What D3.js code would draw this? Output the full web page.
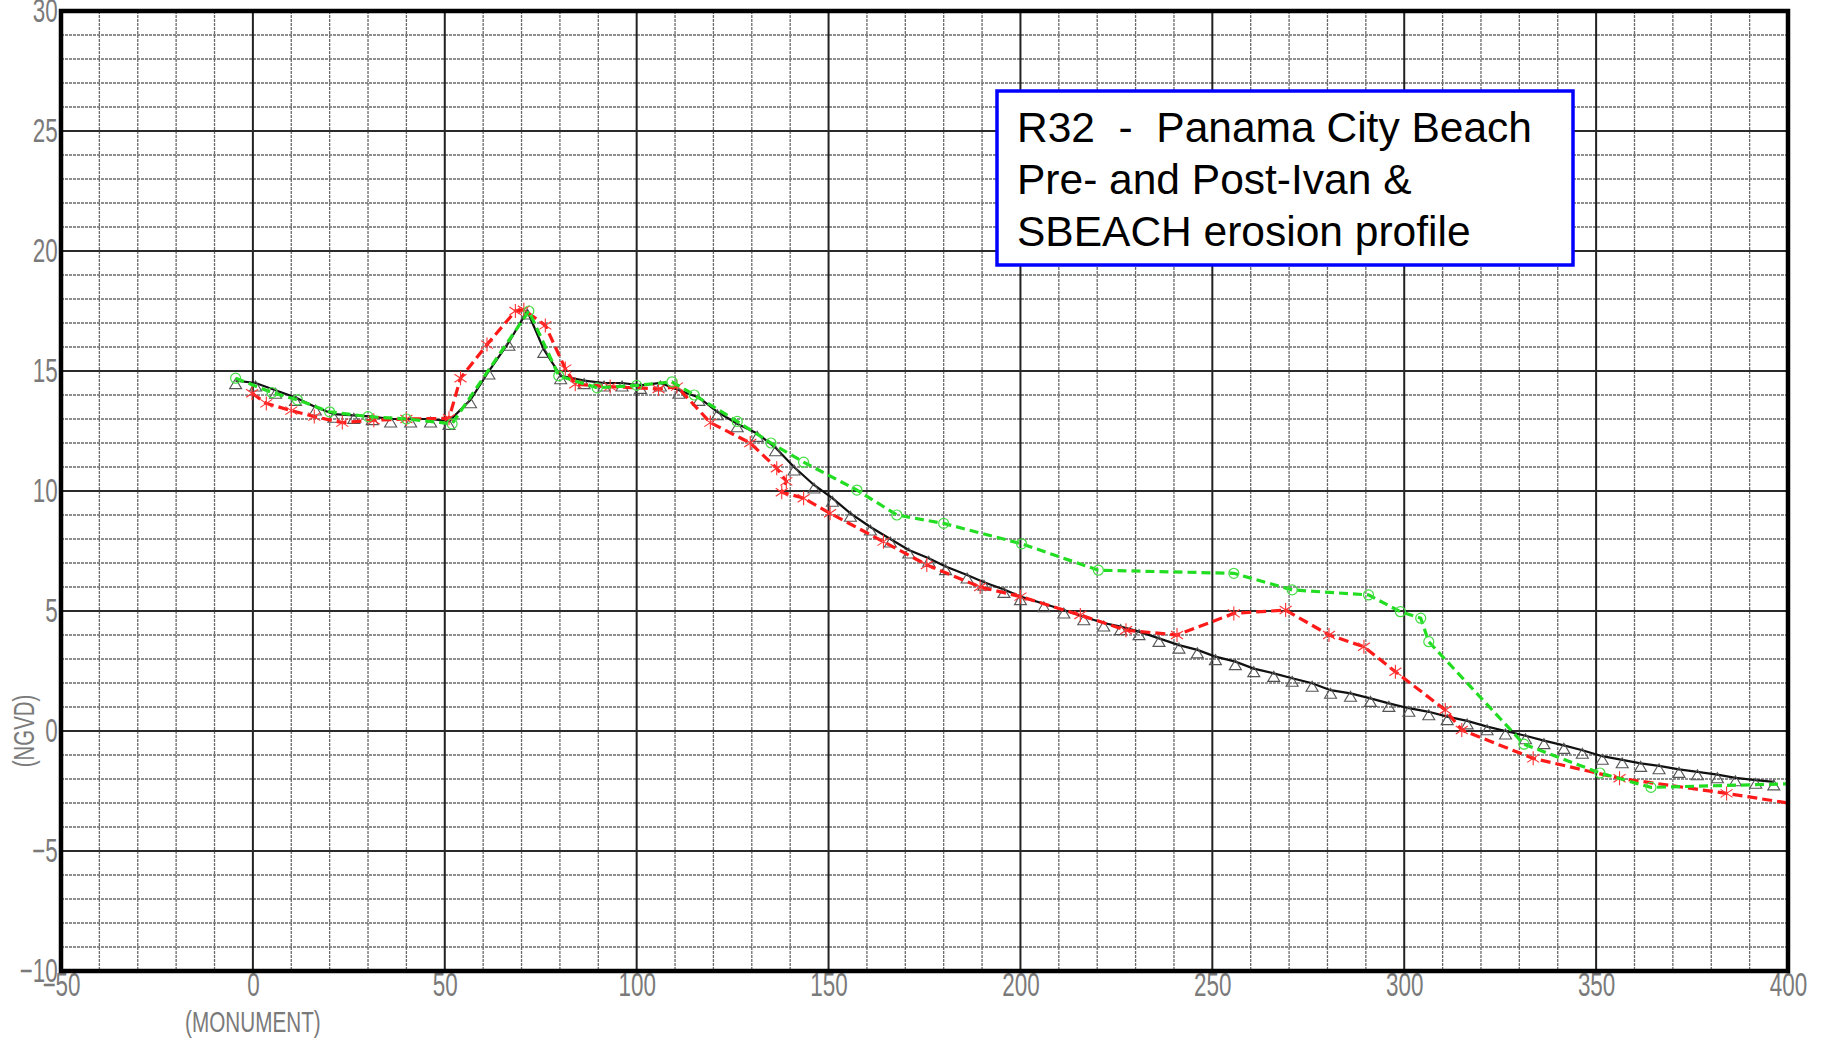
<!DOCTYPE html>
<html>
<head>
<meta charset="utf-8">
<script src="https://cdn.jsdelivr.net/npm/d3@7"></script>
<style>
  html, body { margin: 0; padding: 0; background: #ffffff; }
  svg { display: block; }
</style>
</head>
<body>
<svg id="chart" width="1826" height="1044"></svg>
<script>
// ---------- data ----------
const xTicks = [-50, 0, 50, 100, 150, 200, 250, 300, 350, 400];
const yTicks = [-10, -5, 0, 5, 10, 15, 20, 25, 30];
const xAxisLabel = "(MONUMENT)";
const yAxisLabel = "(NGVD)";
const titleLines = ["R32  -  Panama City Beach", "Pre- and Post-Ivan &", "SBEACH erosion profile"];

// black solid profile with triangles: [distance, elevation]
const profileBlack = [
  [-4.5,14.6],[0.7,14.5],[5.9,14.2],[11.1,13.9],[16.3,13.5],[21.1,13.2],[26.3,13.15],[31.1,13.1],
  [35.9,13.0],[41.1,13.0],[46.3,13.0],[51.1,12.9],[56.7,13.8],[61.5,15.0],[66.7,16.2],[71.5,17.5],
  [75.8,15.9],[80.2,14.8],[86.3,14.6],[91.5,14.5],[96.2,14.5],[101,14.4],[106.2,14.5],[111,14.2],
  [116.2,13.9],[121,13.3],[126.2,12.8],[131.4,12.4],[136.2,11.8],[141,11.0],[146.2,10.25],[151,9.7],
  [155.7,9.07],[160.9,8.5],[166.1,8.0],[170.9,7.54],[176.1,7.2],[180.5,6.85],[186.1,6.5],[190.5,6.2],
  [195.7,5.9],[200,5.6],[206.1,5.3],[211.3,5.04],[216.5,4.76],[221.7,4.5],[226.1,4.35],[230.9,4.14],
  [236.1,3.86],[241.3,3.58],[246.1,3.38],[250.8,3.1],[256,2.89],[260.8,2.6],[266,2.4],[270.8,2.2],
  [276,1.99],[280.8,1.7],[286,1.57],[291.2,1.36],[296,1.15],[301.2,0.95],[306.4,0.8],[311.2,0.6],
  [316.4,0.42],[321.6,0.18],[326.4,0.0],[331.6,-0.2],[336.4,-0.4],[341.6,-0.6],[346.4,-0.8],[351.6,-1.05],
  [356.8,-1.2],[361.6,-1.35],[366.4,-1.45],[371.6,-1.6],[376.4,-1.7],[381.6,-1.82],[386.3,-1.95],
  [391.6,-2.05],[396.3,-2.12]
];

// green dashed profile with circles
const profileGreen = [
  [-4.5,14.7],[5,14.1],[11.6,13.8],[20,13.3],[30,13.1],[40,13.0],[51.9,12.8],[71.9,17.5],
  [79.7,14.8],[89.7,14.3],[100,14.4],[109.2,14.55],[115,14.0],[126.2,12.9],[135,12.0],[143.5,11.2],
  [157.4,10.04],[167.8,9.0],[180,8.65],[200.3,7.8],[220.3,6.7],[255.6,6.57],[270.8,5.88],[290.7,5.67],
  [299,4.97],[304.3,4.7],[306.4,3.72],[331.2,-0.55],[351,-1.75],[364.3,-2.35],[400,-2.2]
];

// red dashed profile with asterisks
const profileRed = [
  [-0.2,14.07],[3.5,13.65],[10,13.35],[16,13.1],[23.3,12.85],[31.5,12.95],[40,13.0],[51.1,13.03],
  [54.1,14.7],[61,16.1],[68.4,17.5],[70.6,17.55],[76.2,16.9],[81.4,15.1],[84,14.45],[93.1,14.35],
  [105.7,14.25],[110.5,14.35],[119.2,12.85],[129.6,12.0],[136.5,10.95],[139,10.4],[137.8,9.95],
  [143.5,9.7],[150.4,9.07],[164.3,7.89],[175.6,6.92],[189.5,6.0],[200,5.6],[215.6,4.83],[227.5,4.2],
  [240.8,4.0],[255.6,4.9],[269.1,5.04],[280.4,4.0],[289.5,3.51],[297.7,2.47],[310.7,0.875],[315,0.04],
  [333.6,-1.14],[356.1,-1.97],[384,-2.6],[400,-3.0]
];

// ---------- layout ----------
const svg = d3.select("#chart");
const x = d3.scaleLinear().domain([-50, 400]).range([61, 1788]);
const y = d3.scaleLinear().domain([-10, 30]).range([971, 11]);
const labelFont = "'Liberation Sans', Arial, sans-serif";

// grid
const grid = svg.append("g");
const minorX = d3.range(-50, 401, 10).filter(v => v % 50 !== 0);
const majorX = d3.range(-50, 401, 50);
const minorY = d3.range(-10, 31, 1).filter(v => v % 5 !== 0);
const majorY = d3.range(-10, 31, 5);

grid.selectAll(".mx").data(minorX).join("line")
  .attr("x1", d => x(d)).attr("x2", d => x(d)).attr("y1", y(30)).attr("y2", y(-10))
  .attr("stroke", "#6a6a6a").attr("stroke-width", 1.3).attr("stroke-dasharray", "3,1");
grid.selectAll(".my").data(minorY).join("line")
  .attr("y1", d => y(d)).attr("y2", d => y(d)).attr("x1", x(-50)).attr("x2", x(400))
  .attr("stroke", "#6a6a6a").attr("stroke-width", 1.3).attr("stroke-dasharray", "3,1");
grid.selectAll(".Mx").data(majorX).join("line")
  .attr("x1", d => x(d)).attr("x2", d => x(d)).attr("y1", y(30)).attr("y2", y(-10))
  .attr("stroke", "#222").attr("stroke-width", 2);
grid.selectAll(".My").data(majorY).join("line")
  .attr("y1", d => y(d)).attr("y2", d => y(d)).attr("x1", x(-50)).attr("x2", x(400))
  .attr("stroke", "#2a2a2a").attr("stroke-width", 1.8);

// axes (labels only)
const xAxis = svg.append("g").attr("transform", `translate(0,${y(-10)})`)
  .call(d3.axisBottom(x).tickValues(xTicks).tickSize(0).tickPadding(2).tickFormat(d3.format("d")));
const yAxis = svg.append("g").attr("transform", `translate(${x(-50)},0)`)
  .call(d3.axisLeft(y).tickValues(yTicks).tickSize(0).tickPadding(5).tickFormat(d3.format("d")));
[xAxis, yAxis].forEach(g => {
  g.select(".domain").remove();
  g.selectAll("text")
    .attr("font-family", labelFont).attr("font-size", 33)
    .attr("fill", "#7a7a7a").attr("transform", "scale(0.68,1)");
});

svg.append("text")
  .attr("transform", `translate(${x(0)},1032) scale(0.69,1)`)
  .attr("text-anchor", "middle")
  .attr("font-family", labelFont).attr("font-size", 30).attr("fill", "#7a7a7a")
  .text(xAxisLabel);
svg.append("text")
  .attr("transform", `translate(34,${y(0)}) rotate(-90) scale(0.68,1)`)
  .attr("text-anchor", "middle")
  .attr("font-family", labelFont).attr("font-size", 30).attr("fill", "#7a7a7a")
  .text(yAxisLabel);

// lines
const line = d3.line().x(d => x(d[0])).y(d => y(d[1]));

svg.append("path").datum(profileBlack).attr("d", line)
  .attr("fill", "none").attr("stroke", "#111").attr("stroke-width", 2.2);
svg.selectAll(".tri").data(profileBlack).join("path")
  .attr("transform", d => `translate(${x(d[0])},${y(d[1]) + 3})`)
  .attr("d", "M0,-5 L6,5 L-6,5 Z")
  .attr("fill", "none").attr("stroke", "#555").attr("stroke-width", 1.1);

svg.append("path").datum(profileRed).attr("d", line)
  .attr("fill", "none").attr("stroke", "#ff1a1a").attr("stroke-width", 3.2)
  .attr("stroke-dasharray", "10,5");
svg.selectAll(".ast").data(profileRed.slice(0, -1)).join("path")
  .attr("transform", d => `translate(${x(d[0])},${y(d[1])})`)
  .attr("d", "M0,-7 L0,7 M-6,-4 L6,4 M-6,4 L6,-4")
  .attr("fill", "none").attr("stroke", "#ff3333").attr("stroke-width", 1.1);

svg.append("path").datum(profileGreen).attr("d", line)
  .attr("fill", "none").attr("stroke", "#22dd22").attr("stroke-width", 3.2)
  .attr("stroke-dasharray", "9,5");
svg.selectAll(".circ").data(profileGreen.slice(0, -1)).join("circle")
  .attr("cx", d => x(d[0])).attr("cy", d => y(d[1])).attr("r", 5)
  .attr("fill", "none").attr("stroke", "#44dd44").attr("stroke-width", 1.2);

// frame
svg.append("rect")
  .attr("x", x(-50)).attr("y", y(30))
  .attr("width", x(400) - x(-50)).attr("height", y(-10) - y(30))
  .attr("fill", "none").attr("stroke", "#000").attr("stroke-width", 4.5);

// title box
const tb = svg.append("g");
tb.append("rect").attr("x", 997).attr("y", 91).attr("width", 576).attr("height", 174)
  .attr("fill", "#fff").attr("stroke", "#0000ff").attr("stroke-width", 3.5);
titleLines.forEach((t, i) => {
  tb.append("text")
    .attr("x", 1017).attr("y", 142 + i * 51.8)
    .attr("font-family", labelFont).attr("font-size", 42.5).attr("fill", "#000")
    .style("white-space", "pre")
    .text(t);
});
</script>
</body>
</html>
